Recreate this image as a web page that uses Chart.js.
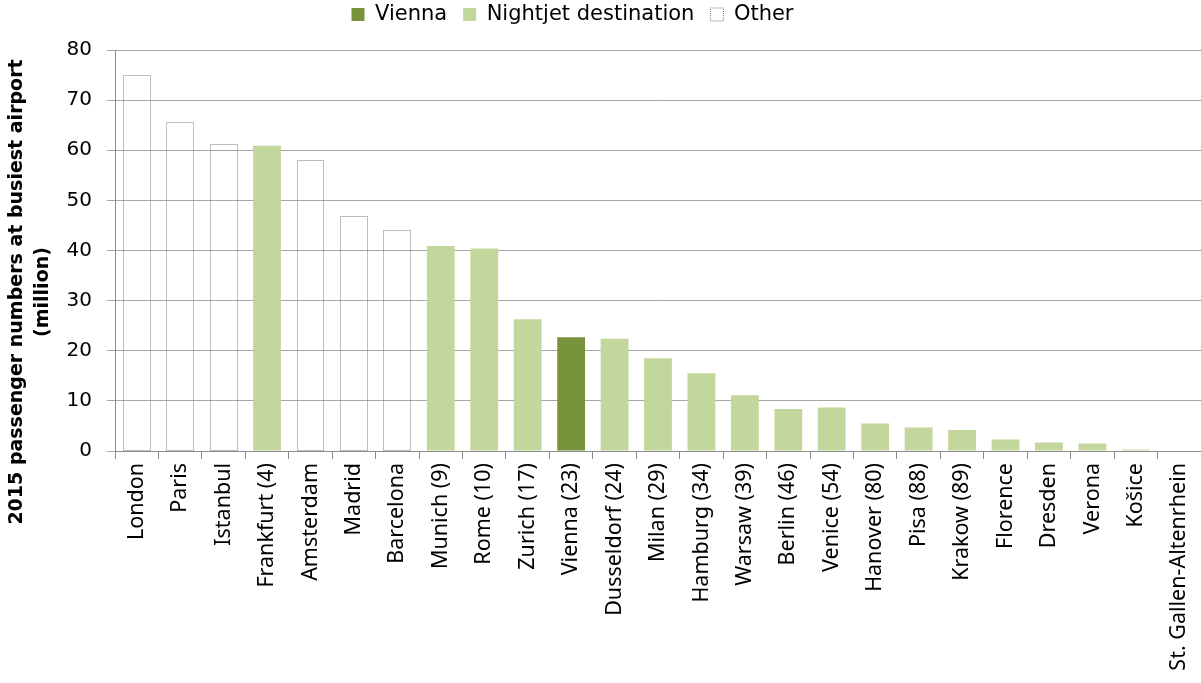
<!DOCTYPE html>
<html>
<head>
<meta charset="utf-8">
<script src="https://cdn.jsdelivr.net/npm/chart.js@4.4.1/dist/chart.umd.min.js"></script>
<style>
  html, body { margin: 0; padding: 0; background: #fff; }
  #wrap { width: 1201px; height: 683px; }
</style>
</head>
<body>
<div id="wrap"><canvas id="myChart" width="1201" height="683"></canvas></div>
<script>
// airports, ordered by passenger numbers
const cities = ["London", "Paris", "Istanbul", "Frankfurt (4)", "Amsterdam", "Madrid", "Barcelona",
    "Munich (9)", "Rome (10)", "Zurich (17)", "Vienna (23)", "Dusseldorf (24)", "Milan (29)",
    "Hamburg (34)", "Warsaw (39)", "Berlin (46)", "Venice (54)", "Hanover (80)", "Pisa (88)",
    "Krakow (89)", "Florence", "Dresden", "Verona", "Košice", "St. Gallen-Altenrhein"];
// 2015 passengers at busiest airport, million
const passengers = [75.0, 65.7, 61.3, 60.9, 58.1, 46.9, 44.1,
    40.9, 40.4, 26.3, 22.7, 22.4, 18.5,
    15.5, 11.1, 8.4, 8.7, 5.5, 4.7,
    4.2, 2.3, 1.7, 1.5, 0.3, 0.1];
// which legend group each city belongs to
const groups = ["o", "o", "o", "n", "o", "o", "o",
    "n", "n", "n", "v", "n", "n",
    "n", "n", "n", "n", "n", "n",
    "n", "n", "n", "n", "n", "n"];
const yTicks = [0, 10, 20, 30, 40, 50, 60, 70, 80];
const yTitle = ["2015 passenger numbers at busiest airport", "(million)"];

const pick = g => passengers.map((v, i) => groups[i] === g ? v : null);

// dotted outline for the "Other" bars (bar border can't be dashed)
const dottedBars = {
    id: "dottedBars",
    afterDatasetsDraw(chart) {
        const meta = chart.getDatasetMeta(2);
        const ctx = chart.ctx;
        ctx.save();
        ctx.strokeStyle = "#7a7a7a";
        ctx.lineWidth = 1;
        ctx.setLineDash([1, 1]);
        meta.data.forEach((bar, i) => {
            if (chart.data.datasets[2].data[i] == null) return;
            const p = bar.getProps(["x", "y", "base", "width"], true);
            const l = Math.round(p.x - p.width / 2) + 0.5;
            const r = Math.round(p.x + p.width / 2) - 0.5;
            const t = Math.round(p.y) + 0.5;
            const b = Math.round(p.base) - 0.5;
            ctx.strokeRect(l, t, r - l, b - t);
        });
        ctx.restore();
    }
};

// fixed legend height, and move it a bit left/up like the original
const legendPlace = {
    id: "legendPlace",
    beforeInit(chart) {
        const fit = chart.legend.fit;
        chart.legend.fit = function () {
            fit.bind(chart.legend)();
            this.height = 50;
        };
    },
    afterLayout(chart) {
        const lg = chart.legend;
        lg.left -= 28;
        lg.right -= 28;
        lg.top -= 12;
        lg.bottom -= 12;
    }
};

// y axis title, centred a little below the middle of the plot
const yTitlePlugin = {
    id: "yTitlePlugin",
    afterDraw(chart) {
        const ctx = chart.ctx;
        ctx.save();
        ctx.translate(0, 292);
        ctx.rotate(-Math.PI / 2);
        ctx.fillStyle = "#000";
        ctx.font = "bold 19px 'DejaVu Sans'";
        ctx.textAlign = "center";
        ctx.textBaseline = "middle";
        ctx.fillText(yTitle[0], 0, 17);
        ctx.fillText(yTitle[1], 0, 43);
        ctx.restore();
    }
};

const ctx = document.getElementById("myChart").getContext("2d");
new Chart(ctx, {
    type: "bar",
    data: {
        labels: cities,
        datasets: [
            {label: "Vienna", data: pick("v"), backgroundColor: "#77933c", borderWidth: 0},
            {label: "Nightjet destination", data: pick("n"), backgroundColor: "#c3d69b", borderWidth: 0},
            {label: "Other", data: pick("o"), backgroundColor: "rgba(255,255,255,0)", borderWidth: 0}
        ]
    },
    plugins: [dottedBars, legendPlace, yTitlePlugin],
    options: {
        responsive: false,
        animation: false,
        layout: {padding: 0},
        datasets: {bar: {categoryPercentage: 1, barPercentage: 0.64, skipNull: true}},
        plugins: {
            tooltip: {enabled: false},
            legend: {
                position: "top",
                labels: {
                    color: "#000",
                    font: {family: "DejaVu Sans", size: 21},
                    boxWidth: 13,
                    boxHeight: 13,
                    padding: 16,
                    generateLabels(chart) {
                        const items = Chart.defaults.plugins.legend.labels.generateLabels(chart);
                        items.forEach(it => {
                            it.lineWidth = 0;
                            if (it.text === "Other") {
                                it.fillStyle = "#fff";
                                it.strokeStyle = "#7a7a7a";
                                it.lineWidth = 1;
                                it.lineDash = [1, 1];
                            }
                        });
                        return items;
                    }
                }
            }
        },
        scales: {
            x: {
                stacked: true,
                afterFit(scale) {
                    scale.height = 232;
                    scale.paddingLeft = 0;
                    scale.paddingRight = 0;
                },
                grid: {
                    offset: true,
                    drawOnChartArea: false,
                    tickLength: 8,
                    color: "#8c8c8c"
                },
                border: {color: "#8c8c8c"},
                ticks: {
                    autoSkip: false,
                    minRotation: 90,
                    maxRotation: 90,
                    padding: 4,
                    color: "#000",
                    font: {family: "Noto Sans", size: 21.5}
                }
            },
            y: {
                stacked: true,
                min: 0,
                max: 80,
                afterFit(scale) { scale.width = 115; },
                afterBuildTicks(scale) { scale.ticks = yTicks.map(v => ({value: v})); },
                grid: {color: "#a6a6a6", tickLength: 8},
                border: {color: "#8c8c8c"},
                ticks: {
                    padding: 15,
                    color: "#000",
                    font: {family: "DejaVu Sans", size: 20}
                },
                title: {display: false}
            }
        }
    }
});
</script>
</body>
</html>
